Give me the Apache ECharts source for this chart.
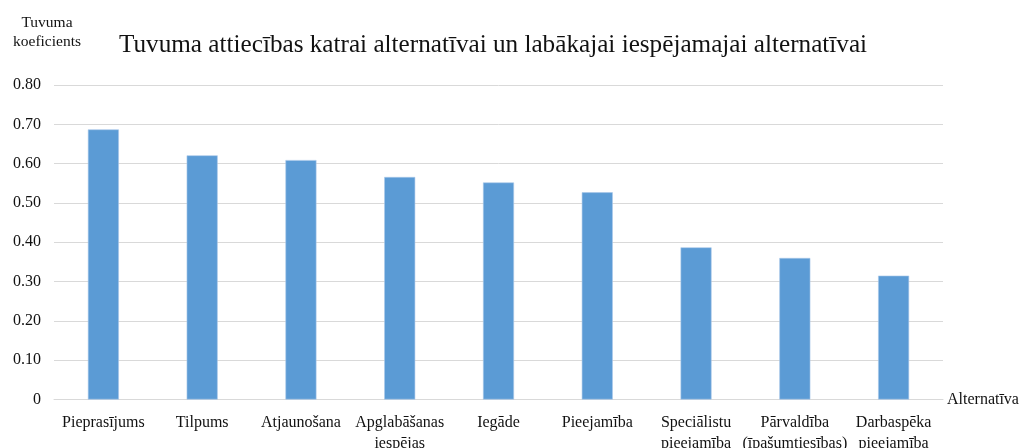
<!DOCTYPE html>
<html>
<head>
<meta charset="utf-8">
<script src="https://cdn.jsdelivr.net/npm/echarts@6/dist/echarts.min.js"></script>
<style>
  html, body { margin: 0; padding: 0; background: #ffffff; }
  #chart { width: 1023px; height: 448px; }
</style>
</head>
<body>
<div id="chart"></div>
<script>
// Alternatives (x-axis categories)
const categories = [
  'Pieprasījums',
  'Tilpums',
  'Atjaunošana',
  'Apglabāšanas\niespējas',
  'Iegāde',
  'Pieejamība',
  'Speciālistu\npieejamība',
  'Pārvaldība\n(īpašumtiesības)',
  'Darbaspēka\npieejamība'
];

// Closeness coefficient for each alternative
const closeness = [0.687, 0.621, 0.609, 0.566, 0.552, 0.527, 0.387, 0.360, 0.315];

// Value axis range
const yMin = 0;
const yMax = 0.8;
const yStep = 0.1;

const serif = "'Liberation Serif', 'DejaVu Serif', serif";

const chart = echarts.init(document.getElementById('chart'), null, { renderer: 'canvas' });

chart.setOption({
  animation: false,
  backgroundColor: '#ffffff',
  title: {
    text: 'Tuvuma attiecības katrai alternatīvai un labākajai iespējamajai alternatīvai',
    left: 114,
    top: 28,
    textStyle: {
      fontFamily: serif,
      fontWeight: 'normal',
      fontSize: 25.2,
      color: '#111111'
    }
  },
  grid: {
    left: 54,
    right: 80,
    top: 85,
    bottom: 48.5,
    containLabel: false,
    outerBoundsMode: 'none'
  },
  xAxis: {
    type: 'category',
    data: categories,
    name: 'Alternatīva',
    nameLocation: 'end',
    nameGap: 4,
    nameTextStyle: {
      fontFamily: serif,
      fontSize: 16,
      color: '#111111',
      verticalAlign: 'middle'
    },
    axisLine: { show: true, lineStyle: { color: '#d9d9d9', width: 1 } },
    axisTick: { show: false },
    axisLabel: {
      interval: 0,
      margin: 13,
      fontFamily: serif,
      fontSize: 16,
      lineHeight: 21,
      color: '#111111',
      verticalAlign: 'top'
    }
  },
  yAxis: {
    type: 'value',
    min: yMin,
    max: yMax,
    interval: yStep,
    name: 'Tuvuma\nkoeficients',
    nameLocation: 'end',
    nameGap: 34,
    nameTextStyle: {
      fontFamily: serif,
      fontSize: 15.5,
      lineHeight: 19,
      color: '#111111',
      align: 'center',
      padding: [0, 14, 0, 0]
    },
    axisLine: { show: false },
    axisTick: { show: false },
    splitLine: { show: true, lineStyle: { color: '#d9d9d9', width: 1 } },
    axisLabel: {
      margin: 13,
      fontFamily: serif,
      fontSize: 16,
      color: '#111111',
      formatter: v => (v === 0 ? '0' : v.toFixed(2))
    }
  },
  series: [{
    type: 'bar',
    data: closeness,
    barWidth: 31,
    itemStyle: {
      color: '#5b9bd5',
      borderColor: '#a9c8ea',
      borderWidth: 0.6
    }
  }]
});
</script>
</body>
</html>
